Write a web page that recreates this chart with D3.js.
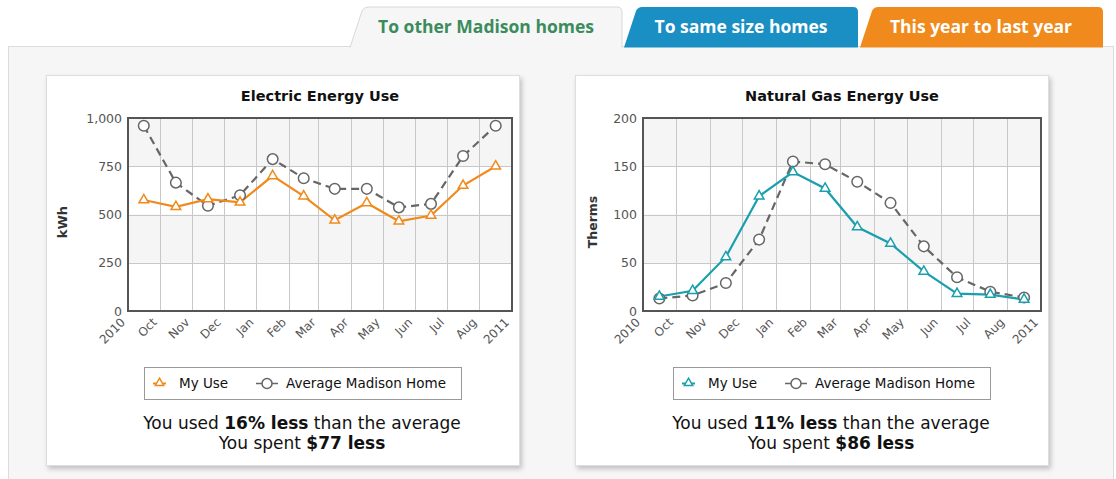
<!DOCTYPE html>
<html><head><meta charset="utf-8">
<script src="https://cdn.jsdelivr.net/npm/d3@7"></script>
<style>body{margin:0;background:#fff;} svg{display:block;font-family:"DejaVu Sans",Verdana,sans-serif;}</style>
</head><body><svg id="c" width="1116" height="479"></svg>
<script>
const months = ["2010-09","2010-10","2010-11","2010-12","2011-01","2011-02","2011-03","2011-04","2011-05","2011-06","2011-07","2011-08"];
const tickLabels = ["2010","Oct","Nov","Dec","Jan","Feb","Mar","Apr","May","Jun","Jul","Aug","2011"];
const elecMyUse = [575,540,580,563,700,595,470,560,465,495,650,750];
const elecAvg = [960,665,545,600,787,688,633,633,537,555,803,960];
const gasMyUse = [15,21,56,119,144,127,87,70,41,18,17,12];
const gasAvg = [13,16,29,74,155,152,134,112,67,35,20,14];
const elecTicks = [0,250,500,750,1000];
const gasTicks = [0,50,100,150,200];
const seriesNames = ["My Use","Average Madison Home"];
const tabLabels = ["To other Madison homes","To same size homes","This year to last year"];
const chartTitles = ["Electric Energy Use","Natural Gas Energy Use"];
const unitLabels = ["kWh","Therms"];
const usedLess = ["16% less","11% less"];
const spentLess = ["$77 less","$86 less"];

const svg = d3.select("#c");
const defs = svg.append("defs");
const f = defs.append("filter").attr("id","sh").attr("x","-5%").attr("y","-5%").attr("width","115%").attr("height","115%");
f.append("feDropShadow").attr("dx",2).attr("dy",3).attr("stdDeviation",2.5).attr("flood-color","#000").attr("flood-opacity",0.22);

svg.append("rect").attr("x",8.5).attr("y",46.5).attr("width",1105).attr("height",460)
  .attr("fill","#f6f6f6").attr("stroke","#dcdcdc");

const tabs = [
  {x0:350,x1:622,fill:"#f6f6f6",stroke:"#d8d8d8",text:"#3b8c5c",cx:486},
  {x0:624,x1:858,fill:"#1a8fc4",stroke:"none",text:"#fff",cx:741},
  {x0:860,x1:1103,fill:"#f08a1c",stroke:"none",text:"#fff",cx:981}
];
tabs.forEach((t,i)=>{
  const top=7, bot=47.5;
  const p = `M${t.x0},${bot} L${t.x0+12},${top+4} Q${t.x0+14},${top} ${t.x0+18},${top} L${t.x1-5},${top} Q${t.x1},${top} ${t.x1},${top+5} L${t.x1},${bot}`;
  svg.append("path").attr("d",p).attr("fill",t.fill).attr("stroke",t.stroke);
  svg.append("text").attr("x",t.cx).attr("y",33).attr("text-anchor","middle")
    .attr("font-family","'Open Sans',sans-serif").attr("font-weight",700).attr("font-size",17.5)
    .attr("fill",t.text).text(tabLabels[i]);
});

const parseM = d3.utcParse("%Y-%m");
const start = parseM(months[0]);
const end = d3.utcMonth.offset(parseM(months[months.length-1]),1);
const tickDates = d3.utcMonth.range(start, d3.utcDay.offset(end,1));
const mid = m => { const a=parseM(m), b=d3.utcMonth.offset(a,1); return new Date((+a + +b)/2); };

const charts = [
  {cx:46, px:82, pw:384, mine:elecMyUse, avg:elecAvg, ticks:elecTicks, color:"#f08a1c"},
  {cx:575, px:68, pw:398, mine:gasMyUse, avg:gasAvg, ticks:gasTicks, color:"#1a9fae"}
];
const cardY=75, cardW=473, cardH=390, py=43, ph=193;

charts.forEach((c,ci)=>{
  const g = svg.append("g").attr("transform",`translate(${c.cx},${cardY})`);
  g.append("rect").attr("x",0.5).attr("y",0.5).attr("width",cardW).attr("height",cardH)
    .attr("fill","#fff").attr("stroke","#dedede").attr("filter","url(#sh)");
  const p = g.append("g").attr("transform",`translate(${c.px},${py})`);
  const x = d3.scaleUtc().domain([start,end]).range([0,c.pw]);
  const y = d3.scaleLinear().domain([c.ticks[0],c.ticks[c.ticks.length-1]]).range([ph,0]);
  for(let i=0;i<c.ticks.length-1;i++){
    if(i%2===1) p.append("rect").attr("x",0).attr("width",c.pw).attr("y",y(c.ticks[i+1])).attr("height",y(c.ticks[i])-y(c.ticks[i+1])).attr("fill","#f5f5f5");
  }
  p.selectAll(".hg").data(c.ticks.slice(1,-1)).join("line").attr("x1",0).attr("x2",c.pw)
    .attr("y1",d=>Math.round(y(d))+0.5).attr("y2",d=>Math.round(y(d))+0.5).attr("stroke","#c8c8c8");
  p.selectAll(".vg").data(tickDates.slice(1,-1)).join("line").attr("y1",0).attr("y2",ph)
    .attr("x1",d=>Math.round(x(d))+0.5).attr("x2",d=>Math.round(x(d))+0.5).attr("stroke","#c8c8c8");
  p.append("rect").attr("x",0).attr("y",0).attr("width",c.pw).attr("height",ph).attr("fill","none").attr("stroke","#555").attr("stroke-width",2);
  const ya = p.append("g").call(d3.axisLeft(y).tickValues(c.ticks).tickFormat(d3.format(",")).tickSize(0).tickPadding(6));
  ya.select(".domain").remove();
  ya.selectAll("text").attr("font-family","'DejaVu Sans',Verdana,sans-serif").attr("font-size",12.5).attr("fill","#555");
  p.selectAll(".xl").data(tickDates).join("text")
    .attr("transform",d=>`translate(${x(d)-2},${ph+12}) rotate(-45)`)
    .attr("text-anchor","end").attr("font-size",12).attr("fill","#555")
    .text((d,i)=>tickLabels[i]);
  const pts = arr => arr.map((v,i)=>[x(mid(months[i])), y(v)]);
  const avgPts = pts(c.avg), minePts = pts(c.mine);
  p.append("path").attr("d",d3.line()(avgPts)).attr("fill","none").attr("stroke","#666").attr("stroke-width",2.2).attr("stroke-dasharray","8,5");
  p.append("path").attr("d",d3.line()(minePts)).attr("fill","none").attr("stroke",c.color).attr("stroke-width",2.2);
  p.selectAll(".ac").data(avgPts).join("circle").attr("cx",d=>d[0]).attr("cy",d=>d[1]).attr("r",5.3)
    .attr("fill","#fff").attr("stroke","#666").attr("stroke-width",1.5);
  const tri = d3.symbol(d3.symbolTriangle,40);
  p.selectAll(".mt").data(minePts).join("path").attr("transform",d=>`translate(${d[0]},${d[1]})`).attr("d",tri)
    .attr("fill","#fff").attr("stroke",c.color).attr("stroke-width",1.5);
  g.append("text").attr("x",c.px+c.pw/2).attr("y",26).attr("text-anchor","middle")
    .attr("font-weight","bold").attr("font-size",14.5).attr("fill","#111").text(chartTitles[ci]);
  g.append("text").attr("transform",`translate(${ci?22:21},147) rotate(-90)`).attr("text-anchor","middle")
    .attr("font-weight","bold").attr("font-size",ci?12.5:13).attr("fill","#333").text(unitLabels[ci]);
  const lg = g.append("g").attr("transform","translate(98,292)");
  lg.append("rect").attr("x",0.5).attr("y",0.5).attr("width",317).attr("height",32).attr("fill","#fff").attr("stroke","#999");
  lg.append("line").attr("x1",9).attr("x2",22).attr("y1",16.5).attr("y2",16.5).attr("stroke",c.color).attr("stroke-width",2);
  lg.append("path").attr("transform","translate(15.5,16)").attr("d",d3.symbol(d3.symbolTriangle,30)).attr("fill","#fff").attr("stroke",c.color).attr("stroke-width",1.5);
  lg.append("text").attr("x",35).attr("y",21).attr("font-size",13.5).attr("fill","#111").text(seriesNames[0]);
  lg.append("line").attr("x1",112).attr("x2",134).attr("y1",16.5).attr("y2",16.5).attr("stroke","#666").attr("stroke-width",1.5);
  lg.append("circle").attr("cx",123).attr("cy",16.5).attr("r",5).attr("fill","#fff").attr("stroke","#666").attr("stroke-width",1.5);
  lg.append("text").attr("x",142).attr("y",21).attr("font-size",13.5).attr("fill","#111").text(seriesNames[1]);
  const t1 = g.append("text").attr("x",256).attr("y",354).attr("text-anchor","middle").attr("font-size",17).attr("fill","#111");
  t1.append("tspan").text("You used ");
  t1.append("tspan").attr("font-weight","bold").text(usedLess[ci]);
  t1.append("tspan").text(" than the average");
  const t2 = g.append("text").attr("x",256).attr("y",374).attr("text-anchor","middle").attr("font-size",17).attr("fill","#111");
  t2.append("tspan").text("You spent ");
  t2.append("tspan").attr("font-weight","bold").text(spentLess[ci]);
});
</script></body></html>
